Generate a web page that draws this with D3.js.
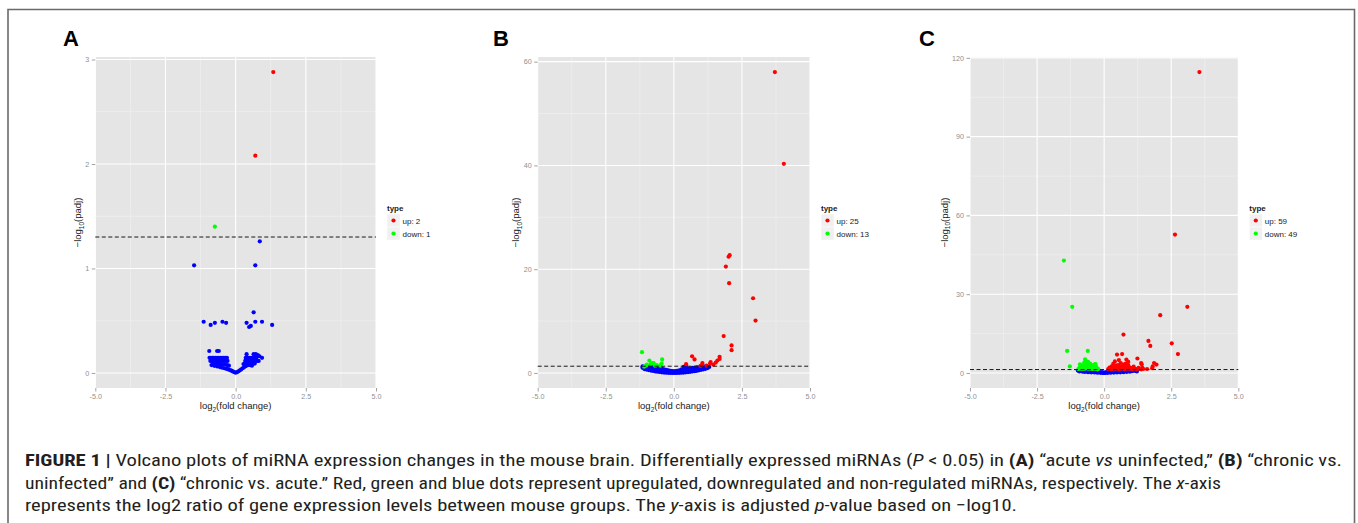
<!DOCTYPE html>
<html><head><meta charset="utf-8">
<script src="https://cdn.jsdelivr.net/npm/d3@7"></script>
<style>body{margin:0;background:#fff}svg{display:block}</style>
</head><body><svg id="c" width="1358" height="523"></svg>
<script>
// ---------------- data ----------------
const panelLabels = ["A", "B", "C"];
const xTicks = [-5, -2.5, 0, 2.5, 5];
const yTicksA = [0, 1, 2, 3];
const yTicksB = [0, 20, 40, 60];
const yTicksC = [0, 30, 60, 90, 120];
const legendTitle = "type";
const upCounts = [2, 25, 59];
const downCounts = [1, 13, 49];
const pThreshold = 0.05;

const upA = [[1.34,2.88],[0.70,2.08]];
const downA = [[-0.74,1.40]];
const nsA = [[0.86,1.26],[-1.48,1.03],[0.70,1.03],[0.64,0.58],
 [-1.14,0.49],[-0.89,0.46],[-0.74,0.48],[-0.47,0.49],[-0.34,0.48],[0.39,0.48],[0.48,0.44],[0.54,0.45],[0.70,0.49],[0.94,0.49],[1.30,0.46],
 [-0.94,0.21],[-0.66,0.21],[-0.60,0.21],
 [0.39,0.18],[0.64,0.18],[0.72,0.18],[0.79,0.17],[0.85,0.16],
 [-0.93,0.145],[-0.88,0.145],[-0.83,0.145],[-0.78,0.145],[-0.72,0.145],[-0.66,0.145],[-0.60,0.145],[-0.54,0.145],[-0.48,0.145],[-0.42,0.145],[-0.36,0.145],[-0.31,0.145],
 [0.36,0.145],[0.42,0.145],[0.48,0.145],[0.55,0.145],[0.62,0.145],[0.68,0.145],[0.74,0.145],[0.94,0.145],
 [-0.90,0.115],[-0.84,0.115],[-0.77,0.115],[-0.70,0.115],[-0.63,0.115],[-0.56,0.115],[-0.49,0.115],[-0.42,0.115],[-0.35,0.115],[-0.29,0.115],
 [0.34,0.115],[0.40,0.115],[0.46,0.115],[0.52,0.115],[0.58,0.115],[0.64,0.115],[0.70,0.115],[0.76,0.115],[0.82,0.115],
 [-0.80,0.09],[-0.70,0.09],[-0.62,0.088],[-0.54,0.085],[-0.46,0.082],[-0.38,0.08],[-0.30,0.075],[-0.24,0.07],
 [0.28,0.085],[0.36,0.09],[0.44,0.09],[0.52,0.09],[0.60,0.09],[0.68,0.09],
 [-0.86,0.075],[-0.76,0.068],[-0.66,0.062],[-0.56,0.056],[-0.48,0.05],[-0.40,0.045],[-0.33,0.04],[-0.26,0.034],[-0.20,0.028],[-0.15,0.022],[-0.10,0.015],[-0.05,0.008],[0.0,0.002],
 [0.05,0.008],[0.10,0.016],[0.15,0.025],[0.20,0.035],[0.25,0.045],[0.30,0.055],[0.35,0.065],[0.40,0.072],[0.46,0.078],[0.52,0.075],[0.58,0.07]];

const upB = [[3.71,58.0],[4.04,40.3],[2.05,22.7],[2.01,22.4],[1.91,20.5],[2.03,17.3],[2.91,14.4],[3.00,10.1],[1.83,7.1],[2.12,5.3],[2.12,4.4],
 [1.68,3.1],[1.68,2.7],[0.67,3.2],[0.76,2.6],[1.60,2.4],[1.54,2.0],[1.35,2.1],[1.33,1.8],[1.05,1.9],[1.03,1.5],[0.98,1.35],[0.45,1.7],[1.20,1.4],[1.45,1.6]];
const downB = [[-1.17,4.0],[-0.90,2.4],[-0.80,1.9],[-0.74,1.9],[-0.99,1.6],[-1.09,1.2],[-0.63,1.5],[-0.43,2.6],[-0.45,1.8],[-0.50,1.4],[-0.85,1.7],[-1.02,1.4],[-0.69,1.4]];
const nsB = [[-1.15,1.25],[-1.15,1.0],[-1.08,1.2],[-1.08,0.9],[-1.08,0.75],[-1.0,1.25],[-1.0,1.0],[-1.0,0.65],[-0.92,1.2],[-0.92,0.9],[-0.92,0.55],
 [-0.84,1.25],[-0.84,0.85],[-0.84,0.45],[-0.76,1.1],[-0.76,0.75],[-0.76,0.38],[-0.68,1.2],[-0.68,0.7],[-0.68,0.3],[-0.6,1.0],[-0.6,0.6],[-0.6,0.25],
 [-0.52,1.1],[-0.52,0.5],[-0.52,0.18],[-0.44,0.9],[-0.44,0.45],[-0.44,0.12],[-0.36,0.7],[-0.36,0.35],[-0.36,0.08],[-0.28,0.6],[-0.28,0.3],[-0.28,0.05],
 [-0.2,0.5],[-0.2,0.2],[-0.2,0.03],[-0.12,0.4],[-0.12,0.15],[-0.12,0.01],[-0.04,0.35],[-0.04,0.1],[-0.04,0.0],[0.04,0.35],[0.04,0.1],[0.04,0.0],
 [0.12,0.4],[0.12,0.15],[0.12,0.01],[0.2,0.5],[0.2,0.2],[0.2,0.03],[0.28,0.7],[0.28,0.3],[0.28,0.05],[0.36,1.2],[0.36,0.6],[0.36,0.08],
 [0.44,1.25],[0.44,0.8],[0.44,0.12],[0.52,0.9],[0.52,0.5],[0.52,0.17],[0.6,0.9],[0.6,0.5],[0.6,0.22],[0.68,1.0],[0.68,0.6],[0.68,0.28],
 [0.76,1.0],[0.76,0.65],[0.76,0.35],[0.84,1.1],[0.84,0.7],[0.84,0.42],[0.92,1.1],[0.92,0.75],[0.92,0.5],[1.0,1.2],[1.0,0.8],[1.0,0.6],
 [1.08,1.2],[1.08,0.9],[1.08,0.7],[1.16,1.25],[1.16,1.0],[1.16,0.8],[1.24,1.2],[1.24,0.95],[1.3,1.15]];

const upC = [[3.55,114.6],[2.64,52.7],[3.10,25.2],[2.09,22.0],[0.72,14.6],[1.65,12.2],[1.72,10.3],[2.52,11.3],[2.75,7.2],[0.48,7.0],[0.67,7.2],
 [0.83,5.1],[1.24,5.5],[1.38,3.8],[1.40,3.3],[1.86,3.8],[1.95,3.2],[1.81,2.5],[1.79,1.8],[0.40,4.4],[0.34,3.5],[0.28,2.5],[0.24,1.8],
 [0.15,1.5],[0.2,2.0],[0.3,1.6],[0.36,2.2],[0.42,1.5],[0.45,2.8],[0.5,1.9],[0.52,3.0],[0.55,1.4],[0.58,2.3],[0.62,1.6],[0.66,2.6],
 [0.7,1.8],[0.72,3.2],[0.75,1.4],[0.78,2.4],[0.8,3.6],[0.84,1.6],[0.88,2.2],[0.9,2.9],[0.95,1.5],[1.0,1.9],[1.05,1.4],[1.1,2.4],
 [1.15,1.6],[1.2,1.4],[1.28,1.9],[1.32,1.5],[1.38,1.4],[1.42,2.0],[1.46,1.5],[0.62,3.8],[0.9,4.2],[0.55,4.9],[0.26,1.4],[1.6,1.5]];
const downC = [[-1.50,42.8],[-1.19,25.2],[-1.38,8.4],[-0.61,8.4],[-1.28,2.5],
 [-0.71,5.2],[-0.68,4.5],[-0.74,4.0],[-0.65,3.8],[-0.6,3.5],[-0.56,3.2],
 [-0.9,3.3],[-0.82,2.4],[-0.78,3.0],[-0.7,2.8],[-0.62,2.6],[-0.55,2.4],[-0.5,2.9],[-0.45,2.2],[-0.4,2.6],[-0.35,3.3],[-0.32,3.4],[-0.3,2.4],[-0.26,1.8],[-0.22,1.5],
 [-0.92,2.0],[-0.88,1.6],[-0.84,1.8],[-0.8,1.5],[-0.76,2.0],[-0.72,1.6],[-0.66,1.9],[-0.6,1.6],[-0.57,2.0],[-0.52,1.6],[-0.48,1.8],[-0.44,1.5],[-0.4,1.9],[-0.36,1.6],[-0.32,1.9],[-0.28,1.5],
 [-0.96,1.5],[-0.86,2.6],[-0.66,3.2],[-0.6,4.2],[-0.52,3.6],[-0.46,3.0],[-0.38,2.1],[-0.25,1.4]];
const nsC = [[-0.98,0.9],[-0.92,1.0],[-0.92,0.6],[-0.86,0.8],[-0.84,1.1],[-0.8,0.5],[-0.76,0.9],[-0.72,0.4],[-0.68,1.0],[-0.64,0.6],[-0.6,0.3],
 [-0.56,0.9],[-0.52,0.5],[-0.48,0.25],[-0.44,0.8],[-0.4,0.4],[-0.36,0.18],[-0.32,0.7],[-0.28,0.3],[-0.24,0.12],[-0.2,0.5],[-0.16,0.2],
 [-0.12,0.05],[-0.08,0.3],[-0.04,0.02],[0,0.15],[0.0,0.0],[0.04,0.02],[0.08,0.3],[0.12,0.05],[0.16,0.2],[0.2,0.5],[0.24,0.1],[0.28,0.3],
 [0.32,0.7],[0.36,0.15],[0.4,0.4],[0.44,0.9],[0.48,0.2],[0.52,0.5],[0.56,1.0],[0.6,0.25],[0.64,0.6],[0.68,1.1],[0.72,0.3],[0.76,0.7],
 [0.8,1.0],[0.84,0.4],[0.88,0.8],[0.92,1.1],[0.96,0.5],[1.0,0.9],[1.05,0.7],[1.1,1.0],[1.15,0.8],[1.2,1.1],[1.22,0.6]];

const captionLines = [
 [["b","FIGURE 1 |"],["n"," Volcano plots of miRNA expression changes in the mouse brain. Differentially expressed miRNAs ("],["i","P"],["n"," < 0.05) in "],["b","(A)"],["n"," \u201cacute "],["i","vs"],["n"," uninfected,\u201d "],["b","(B)"],["n"," \u201cchronic vs."]],
 [["n","uninfected\u201d and "],["b","(C)"],["n"," \u201cchronic vs. acute.\u201d Red, green and blue dots represent upregulated, downregulated and non-regulated miRNAs, respectively. The "],["i","x"],["n","-axis"]],
 [["n","represents the log2 ratio of gene expression levels between mouse groups. The "],["i","y"],["n","-axis is adjusted "],["i","p"],["n","-value based on \u2212log10."]]
];

// ---------------- layout ----------------
const svg = d3.select("#c");
const FONT = "'Liberation Sans', Arial, Helvetica, sans-serif";
const COLORS = {up: "#ff0000", down: "#00ff00", ns: "#0000ff"};
const panels = [
 {up: upA, down: downA, ns: nsA, yTicks: yTicksA, left: 95.3, right: 376, letterX: 63},
 {up: upB, down: downB, ns: nsB, yTicks: yTicksB, left: 537.7, right: 810, letterX: 493},
 {up: upC, down: downC, ns: nsC, yTicks: yTicksC, left: 970, right: 1238.3, letterX: 919}
];
const TOP = 57, BOTTOM = 388;

// frame
svg.append("path").attr("d", "M8,530 L8,9.5 L1354.5,9.5 L1354.5,530")
  .attr("fill", "none").attr("stroke", "#6a6a6a").attr("stroke-width", 1.6);

const fmtX = d => (d < 0 ? "-" : "") + Math.abs(d).toFixed(1);

panels.forEach((p, i) => {
  const all = p.up.concat(p.down, p.ns);
  const ymin = Math.min(0, d3.min(all, d => d[1]));
  const ymax = d3.max(all, d => d[1]);
  const pad = (ymax - ymin) * 0.05;
  const x = d3.scaleLinear().domain([-5, 5]).range([p.left, p.right]);
  const y = d3.scaleLinear().domain([ymin - pad, ymax + pad]).range([BOTTOM, TOP]);
  const g = svg.append("g");

  // panel letter
  g.append("text").attr("x", p.letterX).attr("y", 45.7).text(panelLabels[i])
    .attr("font-family", FONT).attr("font-weight", "bold").attr("font-size", 22).attr("fill", "#000");

  // background
  g.append("rect").attr("x", p.left).attr("y", TOP).attr("width", p.right - p.left).attr("height", BOTTOM - TOP).attr("fill", "#e5e5e5");

  // minor grid
  const minorX = d3.pairs(xTicks).map(([a, b]) => (a + b) / 2);
  const minorY = d3.pairs(p.yTicks).map(([a, b]) => (a + b) / 2);
  g.selectAll(null).data(minorX).join("line")
    .attr("x1", d => x(d)).attr("x2", d => x(d)).attr("y1", TOP).attr("y2", BOTTOM)
    .attr("stroke", "#f2f2f2").attr("stroke-width", 0.6);
  g.selectAll(null).data(minorY).join("line")
    .attr("x1", p.left).attr("x2", p.right).attr("y1", d => y(d)).attr("y2", d => y(d))
    .attr("stroke", "#f2f2f2").attr("stroke-width", 0.6);
  // major grid
  g.selectAll(null).data(xTicks).join("line")
    .attr("x1", d => x(d)).attr("x2", d => x(d)).attr("y1", TOP).attr("y2", BOTTOM)
    .attr("stroke", "#ffffff").attr("stroke-width", 1.1);
  g.selectAll(null).data(p.yTicks).join("line")
    .attr("x1", p.left).attr("x2", p.right).attr("y1", d => y(d)).attr("y2", d => y(d))
    .attr("stroke", "#ffffff").attr("stroke-width", 1.1);

  // axes
  const ax = g.append("g").attr("transform", `translate(0,${BOTTOM})`)
    .call(d3.axisBottom(x).tickValues(xTicks).tickFormat(fmtX).tickSize(3.5).tickPadding(2.5));
  const ay = g.append("g").attr("transform", `translate(${p.left},0)`)
    .call(d3.axisLeft(y).tickValues(p.yTicks).tickFormat(d3.format("d")).tickSize(3.5).tickPadding(2.5));
  [ax, ay].forEach(a => {
    a.select(".domain").remove();
    a.selectAll(".tick line").attr("stroke", "#8a8a8a").attr("stroke-width", 0.8);
    a.selectAll(".tick text").attr("fill", "#8f8f8f").attr("font-size", 7.2).attr("font-family", FONT);
  });
  let maxLab = 0;
  ay.selectAll(".tick text").each(function () { maxLab = Math.max(maxLab, this.getBBox().width); });

  // points
  const drawPts = (arr, col) => g.append("g").selectAll("circle").data(arr).join("circle")
    .attr("cx", d => x(d[0])).attr("cy", d => y(d[1])).attr("r", 2.1).attr("fill", col);
  drawPts(p.ns, COLORS.ns);
  drawPts(p.down, COLORS.down);
  drawPts(p.up, COLORS.up);

  // threshold line
  const thr = -Math.log10(pThreshold);
  g.append("line").attr("x1", p.left).attr("x2", p.right).attr("y1", y(thr)).attr("y2", y(thr))
    .attr("stroke", "#1a1a1a").attr("stroke-width", 1).attr("stroke-dasharray", "4,2.5");

  // axis titles
  const xt = g.append("text").attr("x", (p.left + p.right) / 2).attr("y", 409).attr("text-anchor", "middle")
    .attr("font-family", FONT).attr("font-size", 9.5).attr("fill", "#1a1a1a");
  xt.append("tspan").text("log");
  xt.append("tspan").text("2").attr("font-size", 6.5).attr("dy", 2.5);
  xt.append("tspan").text("(fold change)").attr("dy", -2.5);

  const yc = (TOP + BOTTOM) / 2;
  const yx = p.left - 6 - maxLab - 4.3;
  const yt = g.append("text").attr("transform", `translate(${yx},${yc}) rotate(-90)`).attr("text-anchor", "middle")
    .attr("font-family", FONT).attr("font-size", 9.5).attr("fill", "#1a1a1a");
  yt.append("tspan").text("\u2212log");
  yt.append("tspan").text("10").attr("font-size", 6.5).attr("dy", 2.5);
  yt.append("tspan").text("(padj)").attr("dy", -2.5);

  // legend
  const lx = p.right + 11;
  g.append("text").attr("x", lx).attr("y", 211).text(legendTitle)
    .attr("font-family", FONT).attr("font-weight", "bold").attr("font-size", 8).attr("fill", "#1a1a1a");
  const items = [{lab: "up: " + upCounts[i], col: COLORS.up}, {lab: "down: " + downCounts[i], col: COLORS.down}];
  items.forEach((it, k) => {
    const ky = 214 + k * 13;
    g.append("rect").attr("x", lx).attr("y", ky).attr("width", 13).attr("height", 13)
      .attr("fill", "#f0f0f0").attr("stroke", "#ffffff").attr("stroke-width", 0.5);
    g.append("circle").attr("cx", lx + 6.5).attr("cy", ky + 6.5).attr("r", 2.1).attr("fill", it.col);
    g.append("text").attr("x", lx + 15.5).attr("y", ky + 9.5).text(it.lab)
      .attr("font-family", FONT).attr("font-size", 8).attr("fill", "#1a1a1a");
  });
});

// caption
const CAPFONT = "'Liberation Sans Narrow', 'Arial Narrow', 'Roboto Condensed', 'Liberation Sans', Arial, sans-serif";
const capBase = [466, 488.5, 511];
const capWidth = [1317, 1196, 992];
captionLines.forEach((segs, li) => {
  const t = svg.append("text").attr("x", 25).attr("y", capBase[li])
    .attr("font-family", CAPFONT).attr("font-size", 17).attr("fill", "#231f20")
    .attr("textLength", capWidth[li]).attr("lengthAdjust", "spacingAndGlyphs")
    .attr("xml:space", "preserve").style("white-space", "pre");
  segs.forEach(([st, s]) => {
    const ts = t.append("tspan").text(s);
    if (st === "b") ts.attr("font-weight", "bold");
    if (st === "i") ts.attr("font-style", "italic");
  });
});
</script>
</body></html>
